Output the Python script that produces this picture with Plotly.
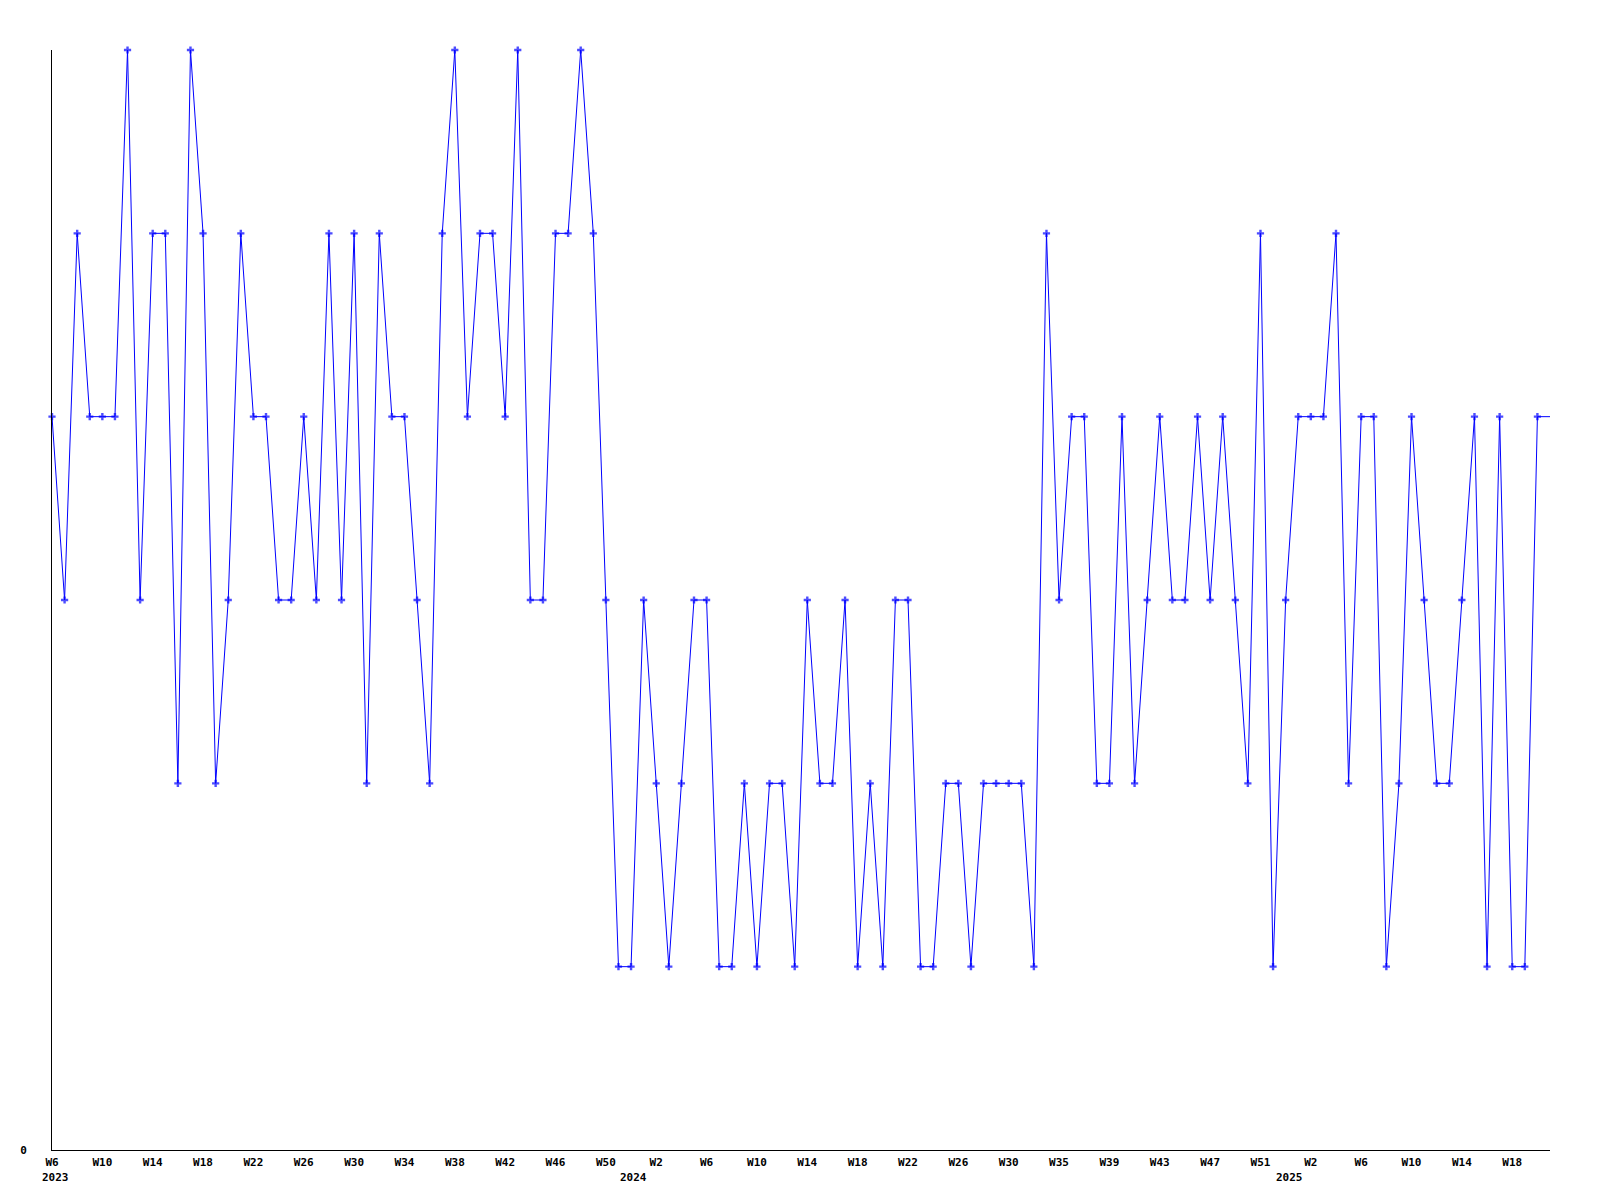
import plotly.graph_objects as go

# Weekly values, 2023 W6 onwards (last entry = current, drawn without marker)
values = [4, 3, 5, 4, 4, 4, 6, 3, 5, 5, 2, 6, 5, 2, 3, 5, 4, 4, 3, 3,
          4, 3, 5, 3, 5, 2, 5, 4, 4, 3, 2, 5, 6, 4, 5, 5, 4, 6, 3, 3,
          5, 5, 6, 5, 3, 1, 1, 3, 2, 1, 2, 3, 3, 1, 1, 2, 1, 2, 2, 1,
          3, 2, 2, 3, 1, 2, 1, 3, 3, 1, 1, 2, 2, 1, 2, 2, 2, 2, 1, 5,
          3, 4, 4, 2, 2, 4, 2, 3, 4, 3, 3, 4, 3, 4, 3, 2, 5, 1, 3, 4,
          4, 4, 5, 2, 4, 4, 1, 2, 4, 3, 2, 2, 3, 4, 1, 4, 1, 1, 4, 4]

tick_labels = ["W6", "W10", "W14", "W18", "W22", "W26", "W30", "W34", "W38",
               "W42", "W46", "W50", "W2", "W6", "W10", "W14", "W18", "W22",
               "W26", "W30", "W35", "W39", "W43", "W47", "W51", "W2", "W6",
               "W10", "W14", "W18"]
tick_step = 4

year_labels = ["2023", "2024", "2025"]
year_pos = [0.3, 46.2, 98.3]

x = list(range(len(values)))
sizes = [6] * (len(values) - 1) + [0]

font_family = "DejaVu Sans Mono"

fig = go.Figure()
fig.add_trace(go.Scatter(
    x=x, y=values, mode="lines+markers",
    line=dict(color="#0000ff", width=1),
    marker=dict(symbol="cross", size=sizes, color="#0000ff", line=dict(width=0)),
    cliponaxis=False, showlegend=False, hoverinfo="x+y",
))

for lbl, pos in zip(year_labels, year_pos):
    fig.add_annotation(x=pos, y=0, xref="x", yref="y", text=lbl,
                       showarrow=False, yshift=-27, yanchor="middle",
                       font=dict(family=font_family, size=11, color="black", weight="bold"))

# page body has an 8px default margin; compensate so the plot area spans 50..1550 x 50..1150
fig.update_layout(
    width=1584, height=1184,
    margin=dict(l=42, r=42, t=42, b=42),
    plot_bgcolor="white", paper_bgcolor="white",
    font=dict(family=font_family, size=11, color="black", weight="bold"),
    xaxis=dict(range=[0, len(values) - 1], showgrid=False, zeroline=False,
               showline=True, linecolor="black", linewidth=1,
               tickvals=list(range(0, len(tick_labels) * tick_step, tick_step)),
               ticktext=tick_labels, ticks="", ticklabelstandoff=2,
               tickfont=dict(family=font_family, size=11, color="black", weight="bold")),
    yaxis=dict(range=[0, 6], showgrid=False, zeroline=False,
               showline=True, linecolor="black", linewidth=1,
               tickvals=[0], ticktext=["0"], ticks="", ticklabelstandoff=22,
               tickfont=dict(family=font_family, size=11, color="black", weight="bold")),
)

fig.write_html("out.html")
